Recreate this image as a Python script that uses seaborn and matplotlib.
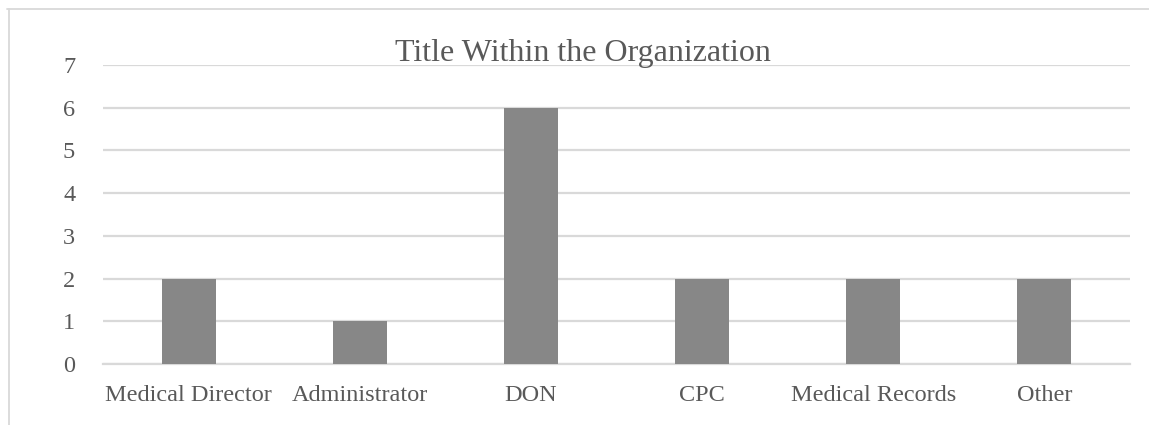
import matplotlib
matplotlib.use("Agg")
import pandas as pd
import seaborn as sns
import matplotlib.pyplot as plt

# data
titles = ["Medical Director", "Administrator", "DON", "CPC", "Medical Records", "Other"]
counts = [2, 1, 6, 2, 2, 2]

df = pd.DataFrame({"title": titles, "count": counts})

sns.set_style("white")
plt.rcParams["font.family"] = ["Liberation Serif", "DejaVu Serif"]

fig = plt.figure(figsize=(11.49, 4.25), dpi=100)
ax = fig.add_axes([0.0896, 0.1435, 0.8939, 0.7035])

sns.barplot(data=df, x="title", y="count", color="#878787", saturation=1,
            width=0.315, edgecolor="none", linewidth=0, ax=ax, zorder=3)

ax.set_ylim(0, 7)
ax.set_yticks(range(0, 8))
ax.yaxis.grid(True, color="#d9d9d9", linewidth=1.6, zorder=0)
for s in ["top", "right", "left"]:
    ax.spines[s].set_visible(False)
ax.spines["bottom"].set_color("#d9d9d9")
ax.spines["bottom"].set_linewidth(1.6)
ax.tick_params(axis="both", length=0, labelsize=17.5, labelcolor="#595959")
ax.tick_params(axis="y", pad=20)
ax.tick_params(axis="x", pad=15)
ax.set_xlabel("")
ax.set_ylabel("")

fig.text(0.507, 0.857, "Title Within the Organization", fontsize=23,
         color="#595959", ha="center", va="baseline")

# chart border (top and left edges visible)
fig.add_artist(plt.Line2D([0.0065, 1.0], [0.979, 0.979], color="#d9d9d9", linewidth=1.3))
fig.add_artist(plt.Line2D([0.0075, 0.0075], [0.0, 0.979], color="#d9d9d9", linewidth=1.3))

fig.savefig("out.png", dpi=100)
